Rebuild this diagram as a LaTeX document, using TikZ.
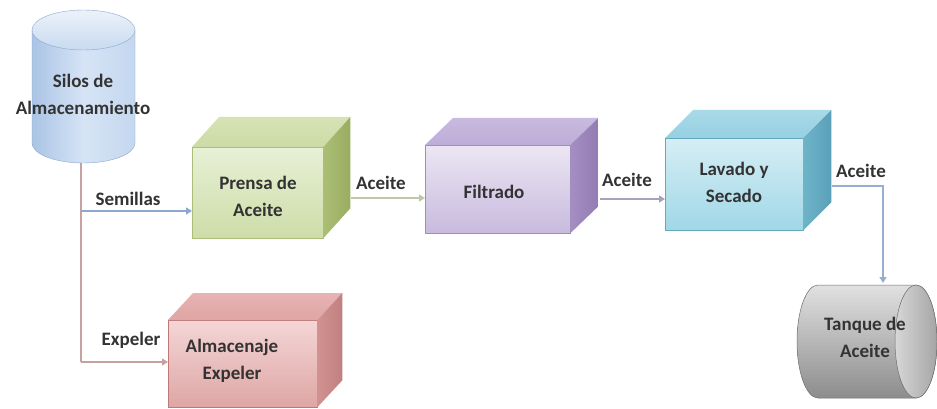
\documentclass[tikz,border=0pt]{standalone}
\usepackage{fontspec}
\setmainfont{Carlito}
\usetikzlibrary{arrows.meta}
\definecolor{txt}{HTML}{333333}
% silo
\definecolor{siloL}{RGB}{170,196,229}
\definecolor{siloM}{RGB}{214,228,245}
\definecolor{siloR}{RGB}{196,215,239}
\definecolor{siloE}{RGB}{140,168,206}
\definecolor{siloT1}{RGB}{236,242,250}
\definecolor{siloT2}{RGB}{200,218,240}
% prensa
\definecolor{prD}{RGB}{170,190,120}
\definecolor{prF1}{RGB}{232,240,214}
\definecolor{prF2}{RGB}{205,221,168}
\definecolor{prT1}{RGB}{205,219,166}
\definecolor{prT2}{RGB}{214,226,180}
\definecolor{prS1}{RGB}{170,191,115}
\definecolor{prS2}{RGB}{152,173,98}
% filtrado
\definecolor{fiD}{RGB}{160,140,190}
\definecolor{fiF1}{RGB}{236,230,244}
\definecolor{fiF2}{RGB}{200,186,222}
\definecolor{fiT1}{RGB}{190,172,216}
\definecolor{fiT2}{RGB}{200,186,224}
\definecolor{fiS1}{RGB}{164,142,194}
\definecolor{fiS2}{RGB}{146,124,180}
% lavado
\definecolor{laD}{RGB}{100,170,190}
\definecolor{laF1}{RGB}{214,238,245}
\definecolor{laF2}{RGB}{160,215,231}
\definecolor{laT1}{RGB}{150,208,226}
\definecolor{laT2}{RGB}{168,218,232}
\definecolor{laS1}{RGB}{110,180,201}
\definecolor{laS2}{RGB}{90,160,184}
% almacenaje
\definecolor{alD}{RGB}{190,120,120}
\definecolor{alF1}{RGB}{244,214,214}
\definecolor{alF2}{RGB}{222,166,165}
\definecolor{alT1}{RGB}{222,165,164}
\definecolor{alT2}{RGB}{230,180,179}
\definecolor{alS1}{RGB}{210,146,145}
\definecolor{alS2}{RGB}{192,128,127}
% tank
\definecolor{tkE}{RGB}{110,110,110}
\definecolor{tk1}{RGB}{225,225,225}
\definecolor{tk2}{RGB}{215,215,215}
\definecolor{tk3}{RGB}{140,140,140}
\definecolor{tkR1}{RGB}{215,215,215}
\definecolor{tkR2}{RGB}{165,165,165}
% connectors
\definecolor{cSem}{RGB}{140,168,206}
\definecolor{cExp}{RGB}{200,160,160}
\definecolor{cA1}{RGB}{188,200,168}
\definecolor{cA2}{RGB}{168,160,188}
\definecolor{cA3}{RGB}{150,174,210}
\tikzset{
  lbl/.style={font=\bfseries\fontsize{19}{27}\selectfont, text=txt, inner sep=0pt, align=center},
  face/.style={anchor=north west, draw=#1, line width=0.3pt},
  conn/.style={draw=#1, line width=1.3pt, -{Triangle[length=6pt,width=7pt]}},
  plain/.style={draw=#1, line width=1.3pt},
}
\newcommand\boxfaces[7]{% name dx dy topA topB sideA sideB
  \shade[top color=#5, bottom color=#4] (#1.north west) -- ++(#2,#3) -- ([shift={(#2,#3)}]#1.north east) -- (#1.north east) -- cycle;
  \shade[left color=#6, right color=#7] (#1.north east) -- ++(#2,#3) -- ([shift={(#2,#3)}]#1.south east) -- (#1.south east) -- cycle;
}
\begin{document}
\begin{tikzpicture}[x=1pt,y=-1pt]
\useasboundingbox[fill=white] (0,0) rectangle (937,409);

% ---- silo (vertical cylinder)
\shade[left color=siloL, right color=siloR, middle color=siloM]
  (32,30) -- (32,143) arc[x radius=51.5pt, y radius=20pt, start angle=180, end angle=360] -- (135,30) -- cycle;
\draw[draw=siloE, line width=0.4pt] (32,30) -- (32,143) arc[x radius=51.5pt, y radius=20pt, start angle=180, end angle=360] -- (135,30);
\shade[top color=siloT1, bottom color=siloT2, draw=siloE, line width=0.4pt]
  (83.5,30) ellipse[x radius=51.5pt, y radius=20pt];
\node[lbl] (silo) at (83,94) {Silos de\\Almacenamiento};
\coordinate (silobot) at (81,163);

% ---- boxes (front faces, then top and side faces, then texts)
\node[face=prD, minimum width=131pt, minimum height=91pt, top color=prF1, bottom color=prF2] (prensa) at (192,147) {};
\boxfaces{prensa}{27}{-30}{prT1}{prT2}{prS1}{prS2}
\node[lbl] (prensaT) at (258,196) {Prensa de\\Aceite};

\node[face=fiD, minimum width=145pt, minimum height=88pt, top color=fiF1, bottom color=fiF2] (filtrado) at (425,145) {};
\boxfaces{filtrado}{28}{-27}{fiT1}{fiT2}{fiS1}{fiS2}
\node[lbl] (filtradoT) at (494,192) {Filtrado};

\node[face=laD, minimum width=138pt, minimum height=92pt, top color=laF1, bottom color=laF2] (lavado) at (665,138) {};
\boxfaces{lavado}{28}{-28}{laT1}{laT2}{laS1}{laS2}
\node[lbl] (lavadoT) at (734,182) {Lavado y\\Secado};

\node[face=alD, minimum width=149pt, minimum height=87pt, top color=alF1, bottom color=alF2] (almac) at (168,320) {};
\boxfaces{almac}{25}{-27}{alT1}{alT2}{alS1}{alS2}
\node[lbl] (almacT) at (232,361) {Almacenaje\\Expeler};

% ---- tank (horizontal cylinder)
\shade[top color=tk1, middle color=tk2, bottom color=tk3, draw=tkE, line width=0.5pt]
  (916,285) -- (818,285) arc[x radius=21pt, y radius=56.5pt, start angle=90, end angle=270] -- (916,398) arc[x radius=21pt, y radius=56.5pt, start angle=-90, end angle=90] -- cycle;
\shade[left color=tkR1, right color=tkR2, draw=tkE, line width=0.5pt]
  (916,341.5) ellipse[x radius=21pt, y radius=56.5pt];
\node[lbl] (tanque) at (865,337) {Tanque de\\Aceite};

% ---- connectors
\coordinate (sem) at (81,211);
\coordinate (expc) at (81,362);
\draw[plain=cExp] (silobot) -- (expc);
\draw[conn=cExp] (expc) -- (expc -| almac.west);
\draw[conn=cSem] (sem) -- (sem -| prensa.west);

\coordinate (a1) at (351,198);
\draw[conn=cA1] (a1) -- (a1 -| filtrado.west);
\coordinate (a2) at (600,199);
\draw[conn=cA2] (a2) -- (a2 -| lavado.west);
\coordinate (a3) at (832,186);
\coordinate (a3t) at (883,283);
\draw[conn=cA3] (a3) -| (a3t);

% ---- connector labels
\node[lbl] (lsem) at (128,199) {Semillas};
\node[lbl] (lac1) at (381,183) {Aceite};
\node[lbl] (lac2) at (627,180) {Aceite};
\node[lbl] (lac3) at (861,171) {Aceite};
\node[lbl] (lexp) at (131,340) {Expeler};
\end{tikzpicture}
\end{document}
